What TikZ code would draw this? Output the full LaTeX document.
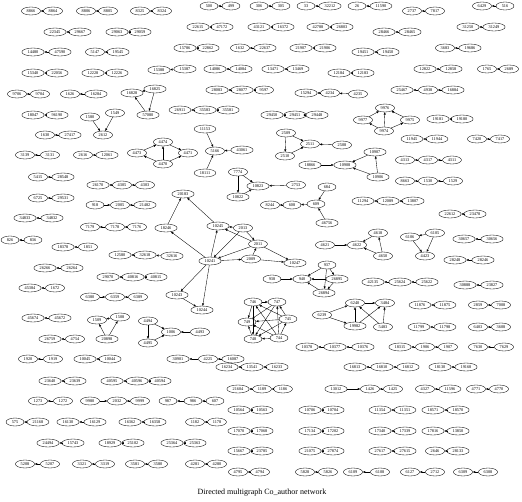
\documentclass[tikz,border=0pt]{standalone}
\usepackage{fontspec}
\setmainfont{Liberation Serif}
\usetikzlibrary{shapes.geometric,arrows.meta}
\newcommand\tinyfs{\fontsize{4.3}{4.3}\selectfont}
\tikzset{
  nd/.style={draw, ellipse, line width=0.35pt, inner xsep=2.5pt, inner ysep=0.6pt, minimum width=18pt, minimum height=8pt, font=\tinyfs},
  ar/.style={-{Triangle[length=2.4pt,width=2pt]}, line width=0.35pt}
}
\begin{document}
\begin{tikzpicture}[x=1pt,y=-1pt]
\useasboundingbox (0,0) rectangle (522,501);
\foreach \x/\y/\l in {
31/11/8866, 53/11/8864, 86/11/8806, 108/11/8805, 140/11/8325, 162/11/8324,
209/6/500, 231/6/499, 259/6/306, 281/6/305, 306/6/33, 330/6/32212,
357/6/26, 381/6/11590, 412/11/2737, 435/11/7817, 482/6/6429, 505/6/516,
55/32/22345, 80/32/29667, 117/32/29063, 140/32/29059, 198/27/22615, 222/27/47172,
259/27/43121, 283/27/16372, 318/27/42788, 342/27/26803, 384/32/28466, 410/32/28465,
468/27/31250, 494/27/31249,
33/52/14480, 60/52/47590, 95/52/5147, 118/52/19545, 185/48/15786, 208/48/22862,
240/48/1632, 265/48/22637, 301/48/21907, 325/48/21906, 363/52/19451, 388/52/19450,
445/48/3683, 470/48/19686,
33/73/15340, 57/73/22056, 93/73/12228, 117/73/12226, 159/70/15388, 185/69/15387,
215/69/14086, 241/69/14084, 273/69/13471, 298/69/13469, 339/73/12184, 363/73/12183,
425/69/12822, 451/69/12858, 487/69/1765, 509/69/2689,
17/94/9706, 40/94/9704, 70/94/1626, 96/94/16284, 132/93/16828, 155/89/16825, 148/115/57080,
217/90/28083, 242/90/28077, 264/90/9597, 306/93/15294, 330/93/4234, 358/94/4235,
402/90/25467, 428/90/4938, 453/90/16884,
33/115/18047, 57/115/96190, 90/117/1580, 115/113/1549, 180/110/26911, 205/110/35583, 228/110/35581,
272/115/29450, 295/115/29451, 317/115/29448,
385/108/9976, 363/120/9977, 410/120/9975, 384/131/9974, 438/119/19181, 462/119/19180,
45/135/1630, 70/135/27417, 103/135/2612,
205/129/11153, 215/151/5166, 242/150/43061, 205/173/18111,
286/133/2509, 310/144/2511, 342/145/2508, 285/156/2510,
412/139/11945, 437/139/11944, 477/139/7420, 500/139/7417,
25/155/3139, 50/155/3131, 83/155/2616, 107/155/12061,
137/153/4473, 163/142/4474, 163/164/4470, 188/153/4471,
310/165/18866, 345/165/10908, 375/152/10907, 378/177/10906,
405/160/4313, 428/160/4317, 452/160/4311,
38/177/5415, 63/177/28548, 98/185/26170, 122/185/4305, 145/185/4303,
238/172/7774, 258/186/10823, 238/197/10822, 296/185/2753,
405/181/8663, 428/181/1530, 453/181/1529,
327/187/684, 270/205/8244, 292/205/608, 316/204/609, 327/223/46756,
183/194/20183,
38/198/6725, 63/198/29531, 95/205/918, 120/205/2005, 145/205/21482,
363/201/11294, 388/201/12089, 413/201/13807, 450/214/22612, 475/214/23478,
25/218/34833, 52/218/34832,
90/227/7179, 115/227/7178, 137/227/7176, 166/228/18246,
218/226/10245, 243/228/2013, 258/244/2011,
378/233/4618, 410/237/6106, 435/233/6105, 464/239/30657, 492/239/30656,
10/240/826, 33/240/836,
325/245/4621, 357/245/4622, 383/256/4650, 425/256/4423,
63/247/18378, 88/247/1851, 120/255/12580, 145/255/32618, 172/256/32616,
210/261/10241, 251/259/2009, 295/263/10247,
455/260/28248, 483/260/28246, 327/265/937,
45/268/26266, 72/268/26264, 108/277/29070, 133/277/40816, 156/277/40815,
272/279/938, 302/279/940, 337/279/26895, 324/293/26894,
373/282/42135, 400/282/25624, 427/282/25622, 465/285/30888, 492/285/23827,
30/288/45384, 55/288/1672,
90/297/6380, 115/297/6359, 138/297/6389, 177/295/10243, 202/310/10244,
253/302/746, 277/302/747, 288/319/745, 247/322/749, 253/339/748, 279/338/744,
322/315/6239, 355/303/6240, 385/303/3484, 355/326/19982, 383/327/5483,
420/305/11876, 445/305/11875, 478/305/2859, 501/305/7008,
33/318/45674, 60/318/45672, 97/320/1509, 120/317/1508, 107/339/20898,
148/321/4494, 148/343/4495, 171/332/1006, 200/332/4493,
419/327/11799, 445/327/11798, 478/327/6403, 501/327/3608,
50/339/26759, 75/339/4754,
307/347/10378, 335/347/10377, 363/347/10376, 400/347/18315, 425/347/1906, 448/347/1907,
478/347/7630, 504/347/7629,
28/359/1920, 53/359/1919, 85/359/10045, 110/359/10044,
178/359/30901, 208/359/4225, 233/359/16087,
227/367/16234, 252/367/13541, 277/367/16233, 355/367/16813, 382/367/16810, 408/367/16812,
440/367/18130, 466/367/19168,
50/381/23640, 75/381/23639, 112/381/40595, 137/381/40596, 160/381/40594,
238/389/21604, 262/389/1189, 283/389/1186, 336/389/13012, 370/389/1426, 393/389/1425,
425/389/4327, 450/389/11596, 476/389/4771, 499/389/4770,
38/401/1273, 63/401/1272, 90/401/9980, 117/401/2032, 140/401/9999,
168/401/987, 193/401/986, 215/401/607,
239/410/10564, 262/410/10563, 310/410/10706, 333/410/10704,
380/410/11354, 405/410/11351, 433/410/18571, 458/410/18570,
15/422/575, 38/422/21168, 68/422/16130, 95/422/16129, 130/422/16362, 155/422/16358,
195/422/1182, 217/422/1178,
239/431/17070, 262/431/17068, 310/431/17134, 333/431/17202,
380/431/17340, 405/431/17339, 433/431/17816, 458/431/13850,
48/443/24494, 73/443/15743, 110/443/18929, 133/443/25102, 172/443/25364, 195/443/25363,
239/451/15667, 262/451/23785, 310/451/21075, 333/451/27874,
380/451/27617, 405/451/27615, 435/451/2646, 458/451/28133,
25/464/5208, 50/464/5207, 82/464/3321, 105/464/3319, 135/464/3581, 158/464/3580,
195/464/4281, 217/464/4280,
238/472/4795, 260/472/4794, 305/472/5828, 328/472/5826, 353/472/6109, 380/472/6108,
410/472/6127, 435/472/2712, 463/472/6309, 488/472/6308}
  \node[nd] (n\l) at (\x,\y) {\l};
\foreach \a/\b in {
8864/8866, 8805/8806, 8324/8325, 499/500, 305/306, 32212/33, 11590/26, 7817/2737, 516/6429,
29667/22345, 29059/29063, 47172/22615, 16372/43121, 26803/42788, 28465/28466, 31249/31250,
47590/14480, 19545/5147, 22862/15786, 22637/1632, 21906/21907, 19450/19451, 19686/3683,
22056/15340, 12226/12228, 15387/15388, 14084/14086, 13469/13471, 12183/12184, 12858/12822, 2689/1765,
9704/9706, 16284/1626, 28077/28083, 9597/28077, 4234/15294, 4235/4234, 4938/25467, 16884/4938,
96190/18047, 35583/26911, 35581/35583, 29451/29450, 29448/29451, 19180/19181,
27417/1630, 11944/11945, 7417/7420, 3131/3139, 12061/2616, 4317/4313, 4311/4317,
28548/5415, 4305/26170, 4303/4305, 1530/8663, 1529/1530,
29531/6725, 918/2005, 21482/2005, 12089/11294, 13807/12089, 23478/22612,
34832/34833, 7178/7179, 7176/7178, 30656/30657,
836/826, 1851/18378, 32618/12580, 32616/32618, 28246/28248,
26264/26266, 40816/29070, 40815/40816, 25624/42135, 25622/25624, 23827/30888,
1672/45384, 6380/6359, 6389/6359, 11875/11876, 7008/2859,
45672/45674, 11798/11799, 3608/6403, 4754/26759,
10377/10378, 10376/10377, 1906/18315, 1907/1906, 7629/7630,
1919/1920, 10044/10045, 4225/30901, 16087/4225,
13541/16234, 16233/13541, 16810/16813, 16812/16810, 19168/18130,
23639/23640, 40596/40595, 40594/40596, 1189/21604, 1186/1189, 13012/1426, 1425/1426, 11596/4327, 4770/4771,
1272/1273, 9980/2032, 9999/2032, 986/987, 607/986,
10563/10564, 10704/10706, 11351/11354, 18570/18571,
21168/575, 16129/16130, 16358/16362, 1178/1182,
17068/17070, 17202/17134, 17339/17340, 13850/17816,
15743/24494, 25102/18929, 25363/25364,
23785/15667, 27874/21075, 27615/27617, 28133/2646,
5207/5208, 3319/3321, 3580/3581, 4280/4281,
4794/4795, 5826/5828, 6108/6109, 2712/6127, 6308/6309,
16825/16828, 16825/57080, 57080/16828,
1580/2612, 1549/2612,
9977/9976, 9975/9976, 9974/9976, 9974/9977, 9974/9975,
4473/4474, 4470/4473, 4470/4474, 4474/4471, 4470/4471,
11153/5166, 18111/5166, 43061/5166,
2509/2510, 2509/2511, 2510/2511, 2508/2511,
18866/10908, 10907/10908, 10906/10908, 10906/10907,
7774/10822, 7774/10823, 10822/10823, 2753/10823,
608/8244, 609/608, 684/609, 46756/609,
4621/4622, 4618/4622, 4650/4622, 4650/4618,
6106/4423, 6105/4423, 6105/6106,
18246/20183, 10245/20183, 10241/18246, 10241/10245, 2013/10245, 2011/10245,
2013/2011, 2013/10241, 2011/10241, 10241/2009, 2009/2011, 2009/10247, 2011/10247,
10241/10243, 10241/10244, 10243/10244,
937/940, 937/26894, 937/26895, 938/940, 26895/940, 26894/940, 26895/26894,
744/745, 744/746, 744/747, 744/748, 744/749, 745/746, 745/747, 745/748, 745/749,
746/747, 746/748, 746/749, 747/748, 747/749, 748/749,
6239/6240, 6239/19982, 19982/6240, 19982/3484, 5483/6240, 5483/3484, 6240/3484,
4494/4495, 4494/1006, 4495/1006, 4493/1006,
1508/1509, 20898/1509, 20898/1508}
  \draw[ar] (n\a) -- (n\b);
\node[font=\fontsize{8}{8}\selectfont] (caption) at (262,493) {Directed multigraph Co\_author network};
\end{tikzpicture}
\end{document}
